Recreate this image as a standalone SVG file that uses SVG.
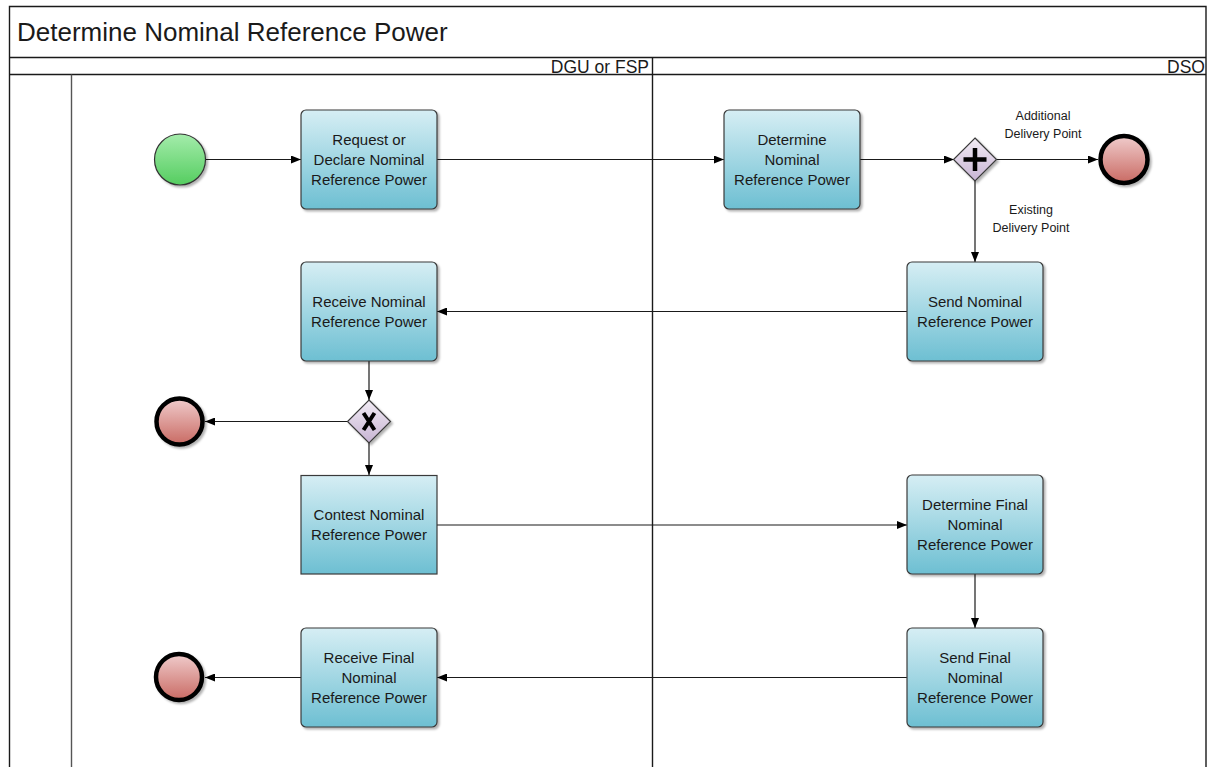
<svg xmlns="http://www.w3.org/2000/svg" width="1210" height="767" viewBox="0 0 1210 767">
<style>
.frame{fill:none;stroke:#1a1a1a;stroke-width:1.4}
.task{fill:url(#gTask);stroke:#3a3a3a;stroke-width:1.2}
.txt{font-family:"Liberation Sans",Arial,sans-serif;font-size:15px;fill:#1a1a1a;text-anchor:middle}
.lbl{font-family:"Liberation Sans",Arial,sans-serif;font-size:12.5px;fill:#1a1a1a;text-anchor:middle}
.lane{font-family:"Liberation Sans",Arial,sans-serif;font-size:17.5px;fill:#1a1a1a;text-anchor:end}
.conn{fill:none;stroke:#1a1a1a;stroke-width:1.2;marker-end:url(#arr)}
.endev{fill:url(#gEnd);stroke:#000;stroke-width:4.5}
.gw{fill:url(#gGw);stroke:#3a3a3a;stroke-width:1.2}
</style>
<defs>
<linearGradient id="gTask" x1="0" y1="0" x2="0" y2="1">
<stop offset="0" stop-color="#d6eef4"/>
<stop offset="1" stop-color="#6dbfd2"/>
</linearGradient>
<linearGradient id="gStart" x1="0" y1="0" x2="0" y2="1">
<stop offset="0" stop-color="#a4ecab"/>
<stop offset="1" stop-color="#55cd60"/>
</linearGradient>
<linearGradient id="gEnd" x1="0" y1="0" x2="0" y2="1">
<stop offset="0" stop-color="#f0cccc"/>
<stop offset="1" stop-color="#c96a63"/>
</linearGradient>
<linearGradient id="gGw" x1="0" y1="0" x2="0" y2="1">
<stop offset="0" stop-color="#f2ecf5"/>
<stop offset="1" stop-color="#c7b4d3"/>
</linearGradient>
<filter id="sh" x="-10%" y="-10%" width="130%" height="130%">
<feDropShadow dx="2" dy="2" stdDeviation="1.2" flood-color="#000" flood-opacity="0.3"/>
</filter>
<marker id="arr" viewBox="0 0 10 8" refX="10" refY="4" markerWidth="10" markerHeight="8" markerUnits="userSpaceOnUse" orient="auto">
<path d="M0,0 L10,4 L0,8 Z" fill="#000"/>
</marker>
</defs>

<rect x="0" y="0" width="1210" height="767" fill="#fff"/>

<g id="pool">
<path class="frame" d="M9.5,767 V6.5 H1206 V767"/>
<line class="frame" x1="9.5" y1="57.5" x2="1206" y2="57.5"/>
<line class="frame" x1="9.5" y1="74.5" x2="1206" y2="74.5"/>
<line class="frame" x1="652.5" y1="57.5" x2="652.5" y2="767"/>
<line x1="71.5" y1="74.5" x2="71.5" y2="767" stroke="#555" stroke-width="1.4"/>
<text x="17" y="41" font-family="'Liberation Sans',Arial,sans-serif" font-size="26px" fill="#1a1a1a">Determine Nominal Reference Power</text>
<text class="lane" x="649" y="73">DGU or FSP</text>
<text class="lane" x="1205" y="73">DSO</text>
</g>

<g id="connectors">
<line class="conn" x1="206" y1="159.5" x2="301" y2="159.5"/>
<line class="conn" x1="437" y1="159.5" x2="724" y2="159.5"/>
<line class="conn" x1="860" y1="159.5" x2="954" y2="159.5"/>
<line class="conn" x1="996" y1="159.5" x2="1098" y2="159.5"/>
<line class="conn" x1="975" y1="181" x2="975" y2="262"/>
<line class="conn" x1="907" y1="311.5" x2="437" y2="311.5"/>
<line class="conn" x1="369" y1="361" x2="369" y2="400"/>
<line class="conn" x1="347" y1="421.5" x2="205" y2="421.5"/>
<line class="conn" x1="369" y1="443" x2="369" y2="475"/>
<line class="conn" x1="437" y1="525" x2="907" y2="525"/>
<line class="conn" x1="975" y1="574" x2="975" y2="628"/>
<line class="conn" x1="907" y1="677.5" x2="437" y2="677.5"/>
<line class="conn" x1="301" y1="677.5" x2="205" y2="677.5"/>
<text class="lbl" x="1043" y="120">Additional</text>
<text class="lbl" x="1043" y="138">Delivery Point</text>
<text class="lbl" x="1031" y="213.5">Existing</text>
<text class="lbl" x="1031" y="231.5">Delivery Point</text>
</g>

<g id="start">
<circle cx="180" cy="159.5" r="25.5" fill="url(#gStart)" stroke="#333" stroke-width="1.2" filter="url(#sh)"/>
</g>

<g id="task-request">
<rect class="task" x="301" y="110" width="136" height="99" rx="5" filter="url(#sh)"/>
<text class="txt" x="369" y="145">Request or</text>
<text class="txt" x="369" y="165">Declare Nominal</text>
<text class="txt" x="369" y="185">Reference Power</text>
</g>

<g id="task-determine">
<rect class="task" x="724" y="110" width="136" height="99" rx="5" filter="url(#sh)"/>
<text class="txt" x="792" y="145">Determine</text>
<text class="txt" x="792" y="165">Nominal</text>
<text class="txt" x="792" y="185">Reference Power</text>
</g>

<g id="gw-parallel">
<path class="gw" d="M975,138 L996.5,159.5 L975,181 L953.5,159.5 Z" filter="url(#sh)"/>
<path d="M975,148 V171 M963.5,159.5 H986.5" stroke="#000" stroke-width="4.5" fill="none"/>
</g>

<g id="end-additional">
<circle class="endev" cx="1124" cy="159.5" r="23.5" filter="url(#sh)"/>
</g>

<g id="task-send">
<rect class="task" x="907" y="262" width="136" height="99" rx="5" filter="url(#sh)"/>
<text class="txt" x="975" y="306.5">Send Nominal</text>
<text class="txt" x="975" y="326.5">Reference Power</text>
</g>

<g id="task-receive">
<rect class="task" x="301" y="262" width="136" height="99" rx="5" filter="url(#sh)"/>
<text class="txt" x="369" y="306.5">Receive Nominal</text>
<text class="txt" x="369" y="326.5">Reference Power</text>
</g>

<g id="gw-exclusive">
<path class="gw" d="M369,400 L390.5,421.5 L369,443 L347.5,421.5 Z" filter="url(#sh)"/>
<path d="M363.5,413 L374.5,430 M374.5,413 L363.5,430" stroke="#000" stroke-width="4" fill="none"/>
</g>

<g id="end-accept">
<circle class="endev" cx="179.5" cy="421.5" r="23" filter="url(#sh)"/>
</g>

<g id="task-contest">
<rect x="301" y="475.5" width="136" height="98.5" fill="url(#gTask)" stroke="#3a3a3a" stroke-width="1.2"/>
<text class="txt" x="369" y="519.5">Contest Nominal</text>
<text class="txt" x="369" y="539.5">Reference Power</text>
</g>

<g id="task-determine-final">
<rect class="task" x="907" y="475" width="136" height="99" rx="5" filter="url(#sh)"/>
<text class="txt" x="975" y="510">Determine Final</text>
<text class="txt" x="975" y="530">Nominal</text>
<text class="txt" x="975" y="550">Reference Power</text>
</g>

<g id="task-send-final">
<rect class="task" x="907" y="628" width="136" height="99" rx="5" filter="url(#sh)"/>
<text class="txt" x="975" y="663">Send Final</text>
<text class="txt" x="975" y="683">Nominal</text>
<text class="txt" x="975" y="703">Reference Power</text>
</g>

<g id="task-receive-final">
<rect class="task" x="301" y="628" width="136" height="99" rx="5" filter="url(#sh)"/>
<text class="txt" x="369" y="663">Receive Final</text>
<text class="txt" x="369" y="683">Nominal</text>
<text class="txt" x="369" y="703">Reference Power</text>
</g>

<g id="end-final">
<circle class="endev" cx="179" cy="677" r="23" filter="url(#sh)"/>
</g>
</svg>
